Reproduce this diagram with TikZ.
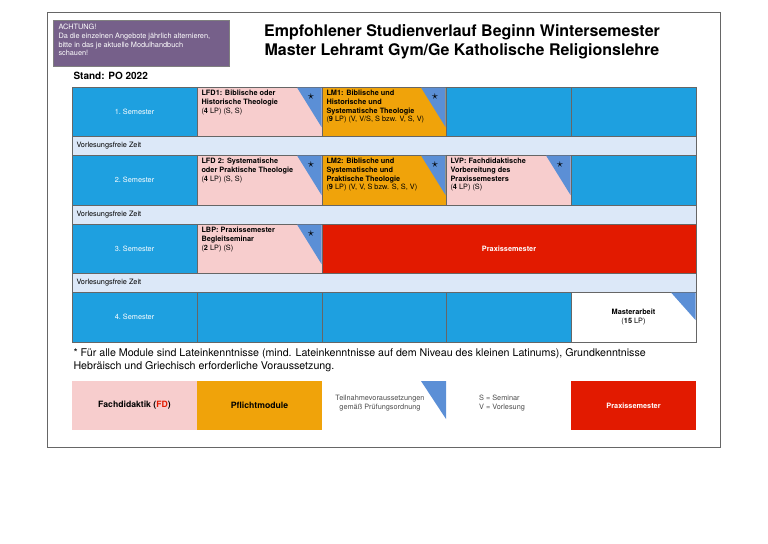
\documentclass[tikz,border=0pt]{standalone}
\usepackage{fontspec}
\setmainfont{TeX Gyre Heros}
\definecolor{semblue}{HTML}{1EA0E0}
\definecolor{fdpink}{HTML}{F7CDCD}
\definecolor{pflorange}{HTML}{F0A30A}
\definecolor{praxred}{HTML}{E21A00}
\definecolor{freeblue}{HTML}{DCE8F8}
\definecolor{notepurple}{HTML}{76608A}
\definecolor{cornerblue}{HTML}{5B8FD6}
\tikzset{every picture/.style={line width=0.75pt}}
\tikzset{
  cellbox/.style={draw=black!60, line width=0.4pt},
  celltext/.style={anchor=north west, inner sep=0.75pt, align=left, font=\fontsize{5.5}{6.5}\selectfont},
  semtext/.style={inner sep=0.75pt, text=white, font=\fontsize{5.5}{6.5}\selectfont},
  freetext/.style={anchor=west, inner sep=0.75pt, font=\fontsize{5.5}{6.5}\selectfont},
}
\begin{document}
\begin{tikzpicture}[x=0.75pt,y=0.75pt,yscale=-1,xscale=1]
\useasboundingbox (0,0) rectangle (768,543);

% Frame
\draw [black!60, line width=0.6pt] (47,12) rectangle (720,447);
% Note box
\draw [fill=notepurple, draw=black!50, line width=0.4pt] (53,20) rectangle (229,66);
\node [anchor=north west, inner sep=0.75pt, align=left, text=white, font=\fontsize{5.5}{6.5}\selectfont] (note) at (57,23) {ACHTUNG!\\Da die einzelnen Angebote jährlich alternieren,\\bitte in das je aktuelle Modulhandbuch\\schauen!};
% Title
\node [align=center, inner sep=0.75pt, font=\bfseries\fontsize{12}{14.5}\selectfont] (title) at (462,42) {Empfohlener Studienverlauf Beginn Wintersemester\\Master Lehramt Gym/Ge Katholische Religionslehre};
\node [anchor=west, inner sep=0.75pt, font=\bfseries\fontsize{7.5}{9}\selectfont] (stand) at (72,76) {Stand: PO 2022};

% Semester rows
\foreach \t/\b/\n in {87/136/1, 155/205/2, 224/273/3, 292/342/4}{
  \foreach \l/\r in {72/197, 197/322, 322/446, 446/571, 571/696}
    \draw [cellbox, fill=semblue] (\l,\t) rectangle (\r,\b);
  \node [semtext] (sem\n) at (134.5,{(\t+\b)/2}) {\n.\ Semester};
}
% Lecture-free rows
\foreach \t/\b/\n in {136/155/1, 205/224/2, 273/292/3}{
  \draw [cellbox, fill=freeblue] (72,\t) rectangle (696,\b);
  \node [freetext] (free\n) at (75,{(\t+\b)/2}) {Vorlesungsfreie Zeit};
}

% Modules
\draw [cellbox, fill=fdpink] (197,87) rectangle (322,136);
\draw [cellbox, fill=pflorange] (322,87) rectangle (446,136);
\draw [cellbox, fill=fdpink] (197,155) rectangle (322,205);
\draw [cellbox, fill=pflorange] (322,155) rectangle (446,205);
\draw [cellbox, fill=fdpink] (446,155) rectangle (571,205);
\draw [cellbox, fill=fdpink] (197,224) rectangle (322,273);
\draw [cellbox, fill=praxred] (322,224) rectangle (696,273);
\draw [cellbox, fill=white] (571,292) rectangle (696,342);

% Prerequisite corners
\foreach \r/\t in {322/87, 446/87, 322/155, 446/155, 571/155, 322/224}{
  \fill [cornerblue] (\r-25,\t+0.5) -- (\r-0.5,\t+0.5) -- (\r-0.5,\t+40) -- cycle;
  \node [inner sep=0pt, font=\fontsize{9}{9}\selectfont] at (\r-11,\t+10) {$\star$};
}
\fill [cornerblue] (671,292.5) -- (695.5,292.5) -- (695.5,320) -- cycle;

\node [celltext] (lfd1) at (200,89) {\textbf{LFD1: Biblische oder}\\\textbf{Historische Theologie}\\(\textbf{4} LP) (S, S)};
\node [celltext] (lm1) at (325,89) {\textbf{LM1: Biblische und}\\\textbf{Historische und}\\\textbf{Systematische Theologie}\\(\textbf{9} LP) (V, V/S, S bzw. V, S, V)};
\node [celltext] (lfd2) at (200,157) {\textbf{LFD 2: Systematische}\\\textbf{oder Praktische Theologie}\\(\textbf{4} LP) (S, S)};
\node [celltext] (lm2) at (325,157) {\textbf{LM2: Biblische und}\\\textbf{Systematische und}\\\textbf{Praktische Theologie}\\(\textbf{9} LP) (V, V, S bzw. S, S, V)};
\node [celltext] (lvp) at (449,157) {\textbf{LVP: Fachdidaktische}\\\textbf{Vorbereitung des}\\\textbf{Praxissemesters}\\(\textbf{4} LP) (S)};
\node [celltext] (lbp) at (200,226) {\textbf{LBP: Praxissemester}\\\textbf{Begleitseminar}\\(\textbf{2} LP) (S)};
\node [inner sep=0.75pt, text=white, font=\bfseries\fontsize{5.5}{6.5}\selectfont] (praxis) at (509,248.5) {Praxissemester};
\node [align=center, inner sep=0.75pt, font=\fontsize{5.5}{6.5}\selectfont] (master) at (633.5,317) {\textbf{Masterarbeit}\\(\textbf{15} LP)};

% Footnote
\node [anchor=north west, inner sep=0.75pt, align=left, font=\fontsize{8}{10}\selectfont] (foot) at (72,347) {* Für alle Module sind Lateinkenntnisse (mind. Lateinkenntnisse auf dem Niveau des kleinen Latinums), Grundkenntnisse\\Hebräisch und Griechisch erforderliche Voraussetzung.};

% Legend
\fill [fdpink] (72,381) rectangle (197,430);
\fill [pflorange] (197,381) rectangle (322,430);
\fill [praxred] (571,381) rectangle (696,430);
\fill [cornerblue] (421,381) -- (446,381) -- (446,419) -- cycle;
\node [inner sep=0.75pt, font=\bfseries\fontsize{6.5}{8}\selectfont] (legfd) at (134.5,405.5) {Fachdidaktik (\textcolor{praxred}{FD})};
\node [inner sep=0.75pt, font=\bfseries\fontsize{6.5}{8}\selectfont] (legpfl) at (259.5,405.5) {Pflichtmodule};
\node [align=center, inner sep=0.75pt, text=black!70, font=\fontsize{5.5}{6.5}\selectfont] (legtn) at (380,403) {Teilnahmevoraussetzungen\\gemäß Prüfungsordnung};
\node [align=left, inner sep=0.75pt, text=black!70, font=\fontsize{5.5}{6.5}\selectfont] (legsv) at (502,403) {S = Seminar\\V = Vorlesung};
\node [inner sep=0.75pt, text=white, font=\bfseries\fontsize{5.5}{6.5}\selectfont] (legprax) at (633.5,405.5) {Praxissemester};
\end{tikzpicture}
\end{document}
